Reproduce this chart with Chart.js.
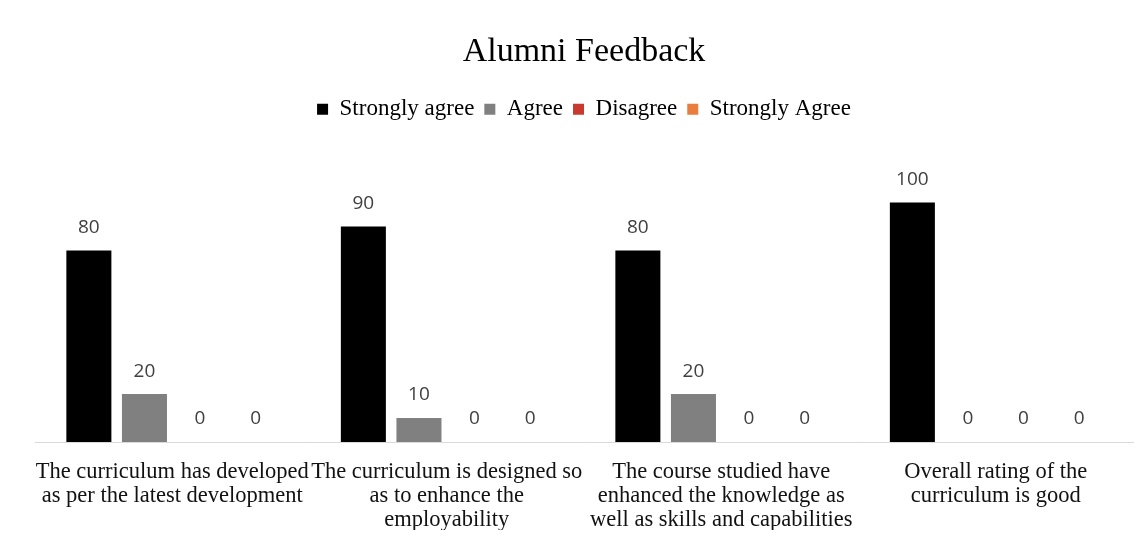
<!DOCTYPE html>
<html>
<head>
<meta charset="utf-8">
<title>Alumni Feedback</title>
<script src="https://cdn.jsdelivr.net/npm/chart.js@4/dist/chart.umd.min.js"></script>
<style>
  html, body { margin: 0; padding: 0; background: #fff; }
  #wrap { width: 1148px; height: 542px; position: relative; }
</style>
</head>
<body>
<div id="wrap"><canvas id="feedback"></canvas></div>
<script>
// chart values
const questions = [
    ['The curriculum has developed', 'as per the latest development'],
    ['The curriculum is designed so', 'as to enhance the', 'employability'],
    ['The course studied have', 'enhanced the knowledge as', 'well as skills and capabilities'],
    ['Overall rating of the', 'curriculum is good']
];
const seriesNames = ['Strongly agree', 'Agree', 'Disagree', 'Strongly Agree'];
const stronglyAgree = [80, 90, 80, 100];
const agree = [20, 10, 20, 0];
const disagree = [0, 0, 0, 0];
const stronglyDisagree = [0, 0, 0, 0];
const colours = ['#000000', '#808080', '#c83a2e', '#e87d3e'];

// small plugin to print the value above every bar
const valueLabels = {
    id: 'valueLabels',
    afterDatasetsDraw(chart) {
        const ctx = chart.ctx;
        ctx.save();
        ctx.font = '19px "Open Sans"';
        ctx.fillStyle = '#404040';
        ctx.textAlign = 'center';
        ctx.textBaseline = 'middle';
        chart.data.datasets.forEach((ds, i) => {
            const meta = chart.getDatasetMeta(i);
            meta.data.forEach((bar, j) => {
                ctx.fillText(ds.data[j], bar.x, bar.y - 23);
            });
        });
        ctx.restore();
    }
};

const allSeries = [stronglyAgree, agree, disagree, stronglyDisagree];

const data = {
    labels: questions,
    datasets: allSeries.map((vals, i) => ({
        label: seriesNames[i],
        data: vals,
        backgroundColor: colours[i],
        categoryPercentage: 0.81,
        barPercentage: 0.81
    }))
};

const config = {
    type: 'bar',
    data: data,
    options: {
        responsive: true,
        maintainAspectRatio: false,
        animation: false,
        layout: { padding: { top: 0, left: 35, right: 15, bottom: 12 } },
        plugins: {
            title: {
                display: true,
                text: 'Alumni Feedback',
                color: '#000',
                font: { family: '"Liberation Serif"', size: 34, weight: 'normal' },
                padding: { top: 32, bottom: 15 }
            },
            legend: {
                labels: {
                    color: '#000',
                    font: { family: '"Liberation Serif"', size: 23 },
                    boxWidth: 11,
                    boxHeight: 11,
                    padding: 10
                }
            },
            tooltip: { enabled: false }
        },
        scales: {
            x: {
                grid: { display: false, drawTicks: false },
                border: { display: true, color: '#d9d9d9', width: 1 },
                ticks: {
                    color: '#111',
                    maxRotation: 0,
                    autoSkip: false,
                    padding: 18,
                    font: { family: '"Liberation Serif"', size: 22.5, lineHeight: 24 / 22.5 }
                },
                afterFit(scale) {
                    // three label lines plus padding
                    scale.height = 88;
                }
            },
            y: {
                display: false,
                min: 0,
                max: 130
            }
        }
    },
    plugins: [valueLabels]
};

const ctx = document.getElementById('feedback');
const chart = new Chart(ctx, config);
</script>
</body>
</html>
